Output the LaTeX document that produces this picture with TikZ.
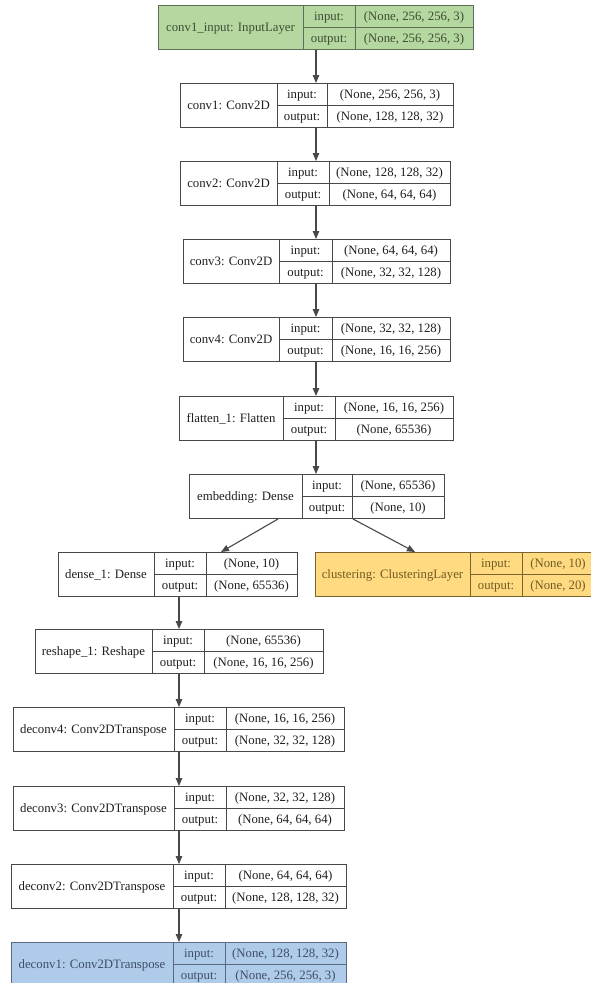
\documentclass[tikz,border=0pt]{standalone}
\usepackage{fontspec}
\setmainfont{Liberation Serif}
\usetikzlibrary{arrows.meta}
\definecolor{kgreen}{RGB}{181,215,160}
\definecolor{kyellow}{RGB}{255,218,128}
\definecolor{kblue}{RGB}{174,203,234}
\definecolor{kline}{RGB}{72,72,72}
\definecolor{kgreentext}{RGB}{62,78,52}
\definecolor{kyellowtext}{RGB}{112,92,34}
\definecolor{kbluetext}{RGB}{62,78,102}
\definecolor{kgreenline}{RGB}{95,110,85}
\definecolor{kyellowline}{RGB}{120,100,45}
\definecolor{kblueline}{RGB}{90,105,125}
\tikzset{
  lbox/.style={rectangle, minimum height=44pt, inner sep=0pt, line width=1pt},
  cell/.style={line width=1pt},
  ltext/.style={font=\fontsize{12.8}{14}\selectfont, inner sep=0pt, anchor=base},
  edge/.style={draw=kline, line width=1.1pt, -{Triangle[length=8pt,width=6.5pt]}}
}
\newcommand\klayer[9]{%
  \node[lbox, fill=\kfill, draw=\kdraw, minimum width={(#3-#2)*1pt}, anchor=north west] (#1) at (#2,#4) {};
  \draw[cell, draw=\kdraw] (#5,#4) -- ++(0,44) (#6,#4) -- ++(0,44) (#5,{#4+22}) -- (#3,{#4+22});
  \node[ltext, text=\ktext] (#1-title) at ({(#2+#5)/2},{#4+26}) {#7};
  \node[ltext, text=\ktext] (#1-inl) at ({(#5+#6)/2},{#4+15}) {input:};
  \node[ltext, text=\ktext] (#1-outl) at ({(#5+#6)/2},{#4+37}) {output:};
  \node[ltext, text=\ktext] (#1-inv) at ({(#6+#3)/2},{#4+15}) {#8};
  \node[ltext, text=\ktext] (#1-outv) at ({(#6+#3)/2},{#4+37}) {#9};
}
\begin{document}
\begin{tikzpicture}[x=1pt,y=-1pt]
\useasboundingbox (0,0) rectangle (591,983);
\clip (0,0) rectangle (591,983);
\fill[white] (0,0) rectangle (591,983);
% spine coordinates
\coordinate (sA) at (316,0);
\coordinate (sB) at (179,0);
\coordinate (eL) at (278,0);
\coordinate (eR) at (353,0);
\coordinate (dT) at (221,0);
\coordinate (cT) at (415,0);
% input layer
\def\kfill{kgreen}\def\kdraw{kgreenline}\def\ktext{kgreentext}
\klayer{conv1in}{158}{473}{5}{303}{355}{conv1\_input: InputLayer}{(None, 256, 256, 3)}{(None, 256, 256, 3)}
% plain layers
\def\kfill{white}\def\kdraw{kline}\def\ktext{black!88}
\klayer{conv1}{180}{453}{83}{277}{327}{conv1: Conv2D}{(None, 256, 256, 3)}{(None, 128, 128, 32)}
\klayer{conv2}{180}{450}{161}{277}{329}{conv2: Conv2D}{(None, 128, 128, 32)}{(None, 64, 64, 64)}
\klayer{conv3}{183}{450}{239}{279}{332}{conv3: Conv2D}{(None, 64, 64, 64)}{(None, 32, 32, 128)}
\klayer{conv4}{183}{450}{317}{279}{332}{conv4: Conv2D}{(None, 32, 32, 128)}{(None, 16, 16, 256)}
\klayer{flatten}{179}{453}{396}{283}{335}{flatten\_1: Flatten}{(None, 16, 16, 256)}{(None, 65536)}
\klayer{embed}{189}{444}{474}{302}{352}{embedding: Dense}{(None, 65536)}{(None, 10)}
\klayer{dense}{58}{297}{552}{154}{206}{dense\_1: Dense}{(None, 10)}{(None, 65536)}
\klayer{reshape}{35}{323}{629}{152}{204}{reshape\_1: Reshape}{(None, 65536)}{(None, 16, 16, 256)}
\klayer{deconv4}{13}{344}{707}{174}{226}{deconv4: Conv2DTranspose}{(None, 16, 16, 256)}{(None, 32, 32, 128)}
\klayer{deconv3}{13}{344}{786}{174}{226}{deconv3: Conv2DTranspose}{(None, 32, 32, 128)}{(None, 64, 64, 64)}
\klayer{deconv2}{11}{346}{864}{173}{225}{deconv2: Conv2DTranspose}{(None, 64, 64, 64)}{(None, 128, 128, 32)}
% clustering layer
\def\kfill{kyellow}\def\kdraw{kyellowline}\def\ktext{kyellowtext}
\klayer{cluster}{315}{594}{552}{470}{522}{clustering: ClusteringLayer}{(None, 10)}{(None, 20)}
% output layer
\def\kfill{kblue}\def\kdraw{kblueline}\def\ktext{kbluetext}
\klayer{deconv1}{11}{346}{942}{173}{225}{deconv1: Conv2DTranspose}{(None, 128, 128, 32)}{(None, 256, 256, 3)}
% connectors
\draw[edge] (conv1in.south -| sA) -- (conv1.north -| sA);
\draw[edge] (conv1.south -| sA) -- (conv2.north -| sA);
\draw[edge] (conv2.south -| sA) -- (conv3.north -| sA);
\draw[edge] (conv3.south -| sA) -- (conv4.north -| sA);
\draw[edge] (conv4.south -| sA) -- (flatten.north -| sA);
\draw[edge] (flatten.south -| sA) -- (embed.north -| sA);
\draw[edge] (embed.south -| eL) -- (dense.north -| dT);
\draw[edge] (embed.south -| eR) -- (cluster.north -| cT);
\draw[edge] (dense.south -| sB) -- (reshape.north -| sB);
\draw[edge] (reshape.south -| sB) -- (deconv4.north -| sB);
\draw[edge] (deconv4.south -| sB) -- (deconv3.north -| sB);
\draw[edge] (deconv3.south -| sB) -- (deconv2.north -| sB);
\draw[edge] (deconv2.south -| sB) -- (deconv1.north -| sB);
\end{tikzpicture}
\end{document}
